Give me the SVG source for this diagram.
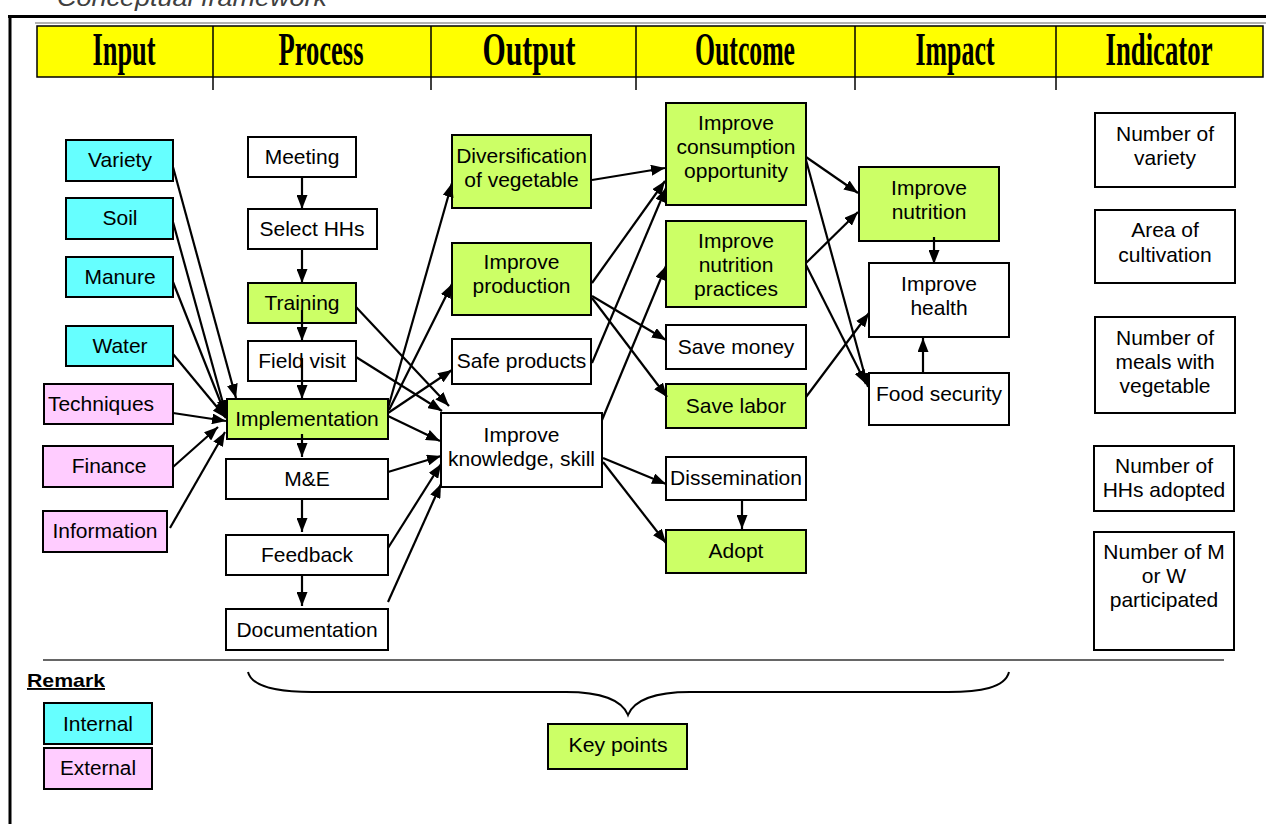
<svg xmlns="http://www.w3.org/2000/svg" width="1266" height="824" viewBox="0 0 1266 824">
<defs>
<marker id="ah" viewBox="0 0 14 11" refX="14" refY="5.5" markerWidth="14" markerHeight="11" markerUnits="userSpaceOnUse" orient="auto">
<path d="M0,0 L14,5.5 L0,11 z" fill="#000"/>
</marker>
<style>
.bx{stroke:#000;stroke-width:2}
.in{fill:#66FFFF}
.ex{fill:#FFCCFF}
.gr{fill:#CCFF66}
.wh{fill:#FFFFFF}
.t{font-family:"Liberation Sans",Arial,sans-serif;font-size:21px;fill:#000;text-anchor:middle}
.h{font-family:"Liberation Serif","Times New Roman",serif;font-weight:bold;font-size:46px;fill:#000;text-anchor:middle}
.c line,.c path.a{stroke:#000;stroke-width:2.2;fill:none;marker-end:url(#ah)}
</style>
</defs>
<rect width="1266" height="824" fill="#fff"/>
<text x="57" y="6" font-family="'Liberation Sans',Arial,sans-serif" font-style="italic" font-size="24" fill="#404040" textLength="270" lengthAdjust="spacingAndGlyphs">Conceptual framework</text>
<g id="frame">
<line x1="8" y1="16.5" x2="1266" y2="16.5" stroke="#000" stroke-width="3"/>
<line x1="10" y1="15" x2="10" y2="824" stroke="#000" stroke-width="3"/>
<line x1="35" y1="23" x2="1266" y2="23" stroke="#999" stroke-width="1.5"/>
<line x1="43" y1="660" x2="1224" y2="660" stroke="#333" stroke-width="1.5"/>
</g>
<g id="header">
<rect x="37" y="26" width="1226" height="51" fill="#FFFF00" stroke="#000" stroke-width="1.5"/>
<g stroke="#000" stroke-width="1.5">
<line x1="213" y1="26" x2="213" y2="90"/>
<line x1="431" y1="26" x2="431" y2="90"/>
<line x1="636" y1="26" x2="636" y2="90"/>
<line x1="855" y1="26" x2="855" y2="90"/>
<line x1="1056" y1="26" x2="1056" y2="90"/>
</g>
<text class="h" x="124" y="65" textLength="63" lengthAdjust="spacingAndGlyphs">Input</text>
<text class="h" x="321" y="65" textLength="85" lengthAdjust="spacingAndGlyphs">Process</text>
<text class="h" x="529" y="65" textLength="93" lengthAdjust="spacingAndGlyphs">Output</text>
<text class="h" x="745" y="65" textLength="100" lengthAdjust="spacingAndGlyphs">Outcome</text>
<text class="h" x="955" y="65" textLength="79" lengthAdjust="spacingAndGlyphs">Impact</text>
<text class="h" x="1159" y="65" textLength="107" lengthAdjust="spacingAndGlyphs">Indicator</text>
</g>

<g id="variety"><rect class="bx in" x="66" y="140" width="107" height="41"/><text class="t" x="120" y="167">Variety</text></g>
<g id="soil"><rect class="bx in" x="66" y="198" width="107" height="41"/><text class="t" x="120" y="225">Soil</text></g>
<g id="manure"><rect class="bx in" x="66" y="257" width="107" height="40"/><text class="t" x="120" y="284">Manure</text></g>
<g id="water"><rect class="bx in" x="66" y="326" width="107" height="40"/><text class="t" x="120" y="353">Water</text></g>
<g id="techniques"><rect class="bx ex" x="44" y="384" width="129" height="40"/><text class="t" x="101" y="411">Techniques</text></g>
<g id="finance"><rect class="bx ex" x="43" y="446" width="130" height="41"/><text class="t" x="109" y="473">Finance</text></g>
<g id="information"><rect class="bx ex" x="43" y="511" width="124" height="41"/><text class="t" x="105" y="538">Information</text></g>

<g id="meeting"><rect class="bx wh" x="248" y="137" width="108" height="40"/><text class="t" x="302" y="164">Meeting</text></g>
<g id="select"><rect class="bx wh" x="248" y="209" width="129" height="40"/><text class="t" x="312" y="236">Select HHs</text></g>
<g id="training"><rect class="bx gr" x="248" y="283" width="108" height="40"/><text class="t" x="302" y="310">Training</text></g>
<g id="fieldvisit"><rect class="bx wh" x="248" y="341" width="108" height="40"/><text class="t" x="302" y="368">Field visit</text></g>
<g id="implementation"><rect class="bx gr" x="227" y="399" width="161" height="40"/><text class="t" x="307" y="426">Implementation</text></g>
<g id="me"><rect class="bx wh" x="226" y="459" width="162" height="40"/><text class="t" x="307" y="486">M&amp;E</text></g>
<g id="feedback"><rect class="bx wh" x="226" y="535" width="162" height="40"/><text class="t" x="307" y="562">Feedback</text></g>
<g id="documentation"><rect class="bx wh" x="226" y="609" width="162" height="41"/><text class="t" x="307" y="637">Documentation</text></g>

<g id="diversification"><rect class="bx gr" x="452" y="135" width="139" height="73"/><text class="t" x="521.5" y="163">Diversification</text><text class="t" x="521.5" y="187">of vegetable</text></g>
<g id="production"><rect class="bx gr" x="452" y="243" width="139" height="72"/><text class="t" x="521.5" y="269">Improve</text><text class="t" x="521.5" y="293">production</text></g>
<g id="safe"><rect class="bx wh" x="452" y="339" width="139" height="45"/><text class="t" x="521.5" y="368">Safe products</text></g>
<g id="knowledge"><rect class="bx wh" x="441" y="413" width="161" height="74"/><text class="t" x="521.5" y="442">Improve</text><text class="t" x="521.5" y="466">knowledge, skill</text></g>

<g id="consumption"><rect class="bx gr" x="666" y="103" width="140" height="102"/><text class="t" x="736" y="130">Improve</text><text class="t" x="736" y="154">consumption</text><text class="t" x="736" y="178">opportunity</text></g>
<g id="nutpractices"><rect class="bx gr" x="666" y="221" width="140" height="86"/><text class="t" x="736" y="248">Improve</text><text class="t" x="736" y="272">nutrition</text><text class="t" x="736" y="296">practices</text></g>
<g id="savemoney"><rect class="bx wh" x="666" y="325" width="140" height="44"/><text class="t" x="736" y="354">Save money</text></g>
<g id="savelabor"><rect class="bx gr" x="666" y="384" width="140" height="44"/><text class="t" x="736" y="413">Save labor</text></g>
<g id="dissemination"><rect class="bx wh" x="666" y="457" width="140" height="43"/><text class="t" x="736" y="485">Dissemination</text></g>
<g id="adopt"><rect class="bx gr" x="666" y="530" width="140" height="43"/><text class="t" x="736" y="558">Adopt</text></g>

<g id="nutrition"><rect class="bx gr" x="859" y="167" width="140" height="74"/><text class="t" x="929" y="195">Improve</text><text class="t" x="929" y="219">nutrition</text></g>
<g id="health"><rect class="bx wh" x="869" y="263" width="140" height="74"/><text class="t" x="939" y="291">Improve</text><text class="t" x="939" y="315">health</text></g>
<g id="foodsecurity"><rect class="bx wh" x="869" y="373" width="140" height="52"/><text class="t" x="939" y="401">Food security</text></g>

<g id="ind1"><rect class="bx wh" x="1095" y="113" width="140" height="74"/><text class="t" x="1165" y="141">Number of</text><text class="t" x="1165" y="165">variety</text></g>
<g id="ind2"><rect class="bx wh" x="1095" y="210" width="140" height="73"/><text class="t" x="1165" y="237">Area of</text><text class="t" x="1165" y="262">cultivation</text></g>
<g id="ind3"><rect class="bx wh" x="1095" y="317" width="140" height="96"/><text class="t" x="1165" y="345">Number of</text><text class="t" x="1165" y="369">meals with</text><text class="t" x="1165" y="393">vegetable</text></g>
<g id="ind4"><rect class="bx wh" x="1094" y="446" width="140" height="65"/><text class="t" x="1164" y="473">Number of</text><text class="t" x="1164" y="497">HHs adopted</text></g>
<g id="ind5"><rect class="bx wh" x="1094" y="532" width="140" height="118"/><text class="t" x="1164" y="559">Number of M</text><text class="t" x="1164" y="583">or W</text><text class="t" x="1164" y="607">participated</text></g>

<g id="legend">
<text x="27" y="687" font-family="'Liberation Sans',Arial,sans-serif" font-weight="bold" font-size="19" text-decoration="underline" textLength="78" lengthAdjust="spacingAndGlyphs">Remark</text>
<g id="internal"><rect class="bx in" x="44" y="703" width="108" height="41"/><text x="98" y="731" font-family="'Liberation Sans',Arial,sans-serif" font-size="20" text-anchor="middle" textLength="70" lengthAdjust="spacingAndGlyphs">Internal</text></g>
<g id="external"><rect class="bx ex" x="44" y="748" width="108" height="41"/><text x="98" y="775" font-family="'Liberation Sans',Arial,sans-serif" font-size="20" text-anchor="middle" textLength="76" lengthAdjust="spacingAndGlyphs">External</text></g>
<g id="keypoints"><rect class="bx gr" x="548" y="724" width="139" height="45"/><text x="618" y="752" font-family="'Liberation Sans',Arial,sans-serif" font-size="20" text-anchor="middle" textLength="99" lengthAdjust="spacingAndGlyphs">Key points</text></g>
<path d="M248,672 C252,688 280,692 312,692 L566,692 C600,692 622,700 628,715 C634,700 656,692 690,692 L948,692 C980,692 1005,688 1009,672" fill="none" stroke="#000" stroke-width="2"/>
</g>

<g id="connectors" class="c">
<line x1="173" y1="167" x2="236" y2="398"/>
<line x1="173" y1="222" x2="226" y2="414"/>
<line x1="173" y1="282" x2="226" y2="416"/>
<line x1="173" y1="354" x2="226" y2="418"/>
<line x1="173" y1="413" x2="226" y2="421"/>
<line x1="173" y1="467" x2="218" y2="427"/>
<line x1="170" y1="528" x2="225" y2="432"/>
<line x1="302" y1="177" x2="302" y2="209"/>
<line x1="302" y1="249" x2="302" y2="283"/>
<line x1="302" y1="310" x2="302" y2="341"/>
<line x1="302" y1="358" x2="302" y2="399"/>
<line x1="302" y1="434" x2="302" y2="457"/>
<line x1="302" y1="499" x2="302" y2="532"/>
<line x1="302" y1="575" x2="302" y2="606"/>
<line x1="388" y1="408" x2="452" y2="183"/>
<line x1="389" y1="410" x2="452" y2="284"/>
<line x1="388" y1="413" x2="452" y2="370"/>
<line x1="388" y1="416" x2="440" y2="441"/>
<line x1="356" y1="307" x2="449" y2="406"/>
<line x1="356" y1="357" x2="442" y2="411"/>
<line x1="388" y1="472" x2="441" y2="456"/>
<line x1="388" y1="548" x2="441" y2="464"/>
<line x1="388" y1="602" x2="441" y2="484"/>
<line x1="592" y1="180" x2="665" y2="168"/>
<line x1="592" y1="283" x2="665" y2="181"/>
<line x1="592" y1="363" x2="666" y2="188"/>
<line x1="602" y1="420" x2="666" y2="266"/>
<line x1="592" y1="296" x2="666" y2="340"/>
<line x1="592" y1="298" x2="667" y2="397"/>
<line x1="603" y1="458" x2="666" y2="484"/>
<line x1="603" y1="462" x2="666" y2="543"/>
<line x1="742" y1="500" x2="742" y2="529"/>
<line x1="806" y1="157" x2="858" y2="193"/>
<line x1="806" y1="160" x2="868" y2="387"/>
<line x1="806" y1="263" x2="858" y2="212"/>
<line x1="806" y1="265" x2="866" y2="384"/>
<line x1="806" y1="397" x2="869" y2="313"/>
<line x1="934" y1="237" x2="934" y2="264"/>
<line x1="923" y1="373" x2="923" y2="338"/>
</g>
</svg>
